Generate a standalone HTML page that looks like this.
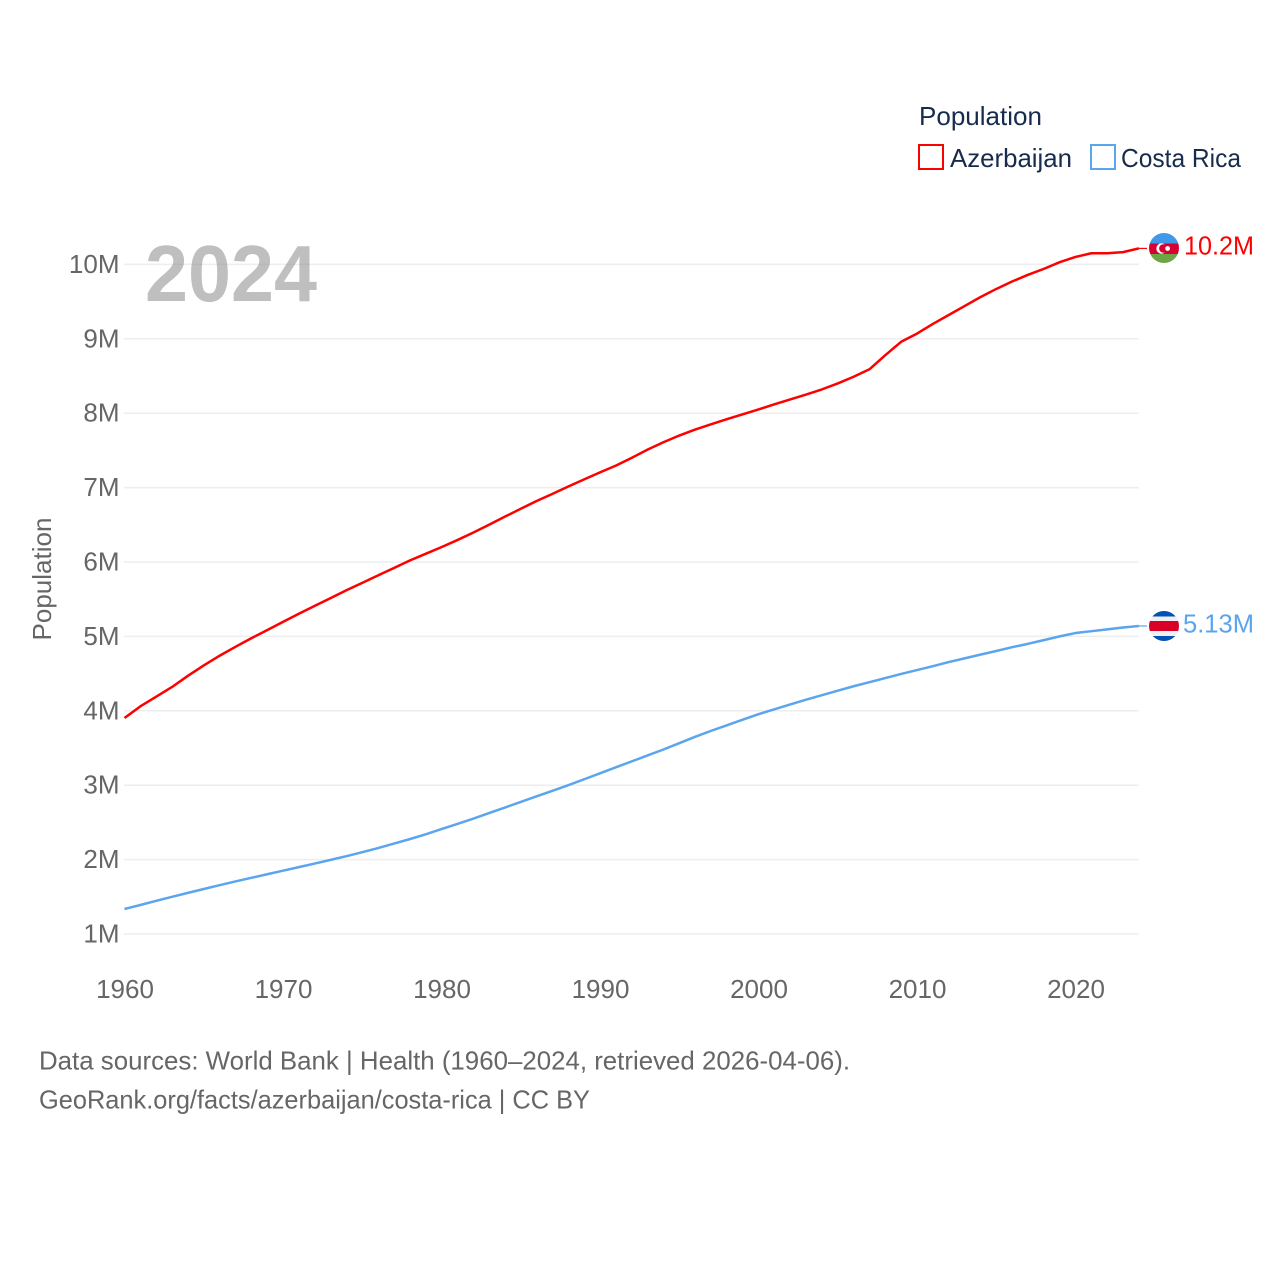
<!DOCTYPE html>
<html lang="en">
<head>
<meta charset="utf-8">
<title>Population: Azerbaijan and Costa Rica</title>
<style>
html,body{margin:0;padding:0;background:#fff;}
svg{display:block;font-family:"Liberation Sans",Arial,sans-serif;}
</style>
</head>
<body>
<svg id="chart" xmlns="http://www.w3.org/2000/svg" width="1280" height="1280" viewBox="0 0 1280 1280">
  <defs>
    <clipPath id="clip-az"><circle cx="1164" cy="248" r="15"/></clipPath>
    <clipPath id="clip-cr"><circle cx="1164" cy="626" r="15"/></clipPath>
  </defs>
  <rect width="1280" height="1280" fill="#fff"/>
  <g id="grid"></g>
  <g id="yticks"></g>
  <g id="xticks"></g>
  <text transform="translate(51,579) rotate(-90)" text-anchor="middle" font-size="26" fill="#666" textLength="123" lengthAdjust="spacingAndGlyphs">Population</text>
  <text x="145" y="301" font-size="80" font-weight="700" fill="#808080" fill-opacity="0.5" textLength="172" lengthAdjust="spacingAndGlyphs">2024</text>
  <g id="series"></g>

  <g>
    <text x="919" y="125" font-size="26" fill="#172b4d" textLength="123" lengthAdjust="spacingAndGlyphs">Population</text>
    <rect x="919" y="145" width="24" height="24" fill="none" stroke="#ff0000" stroke-width="2"/>
    <text x="950" y="167" font-size="26" fill="#172b4d" textLength="122" lengthAdjust="spacingAndGlyphs">Azerbaijan</text>
    <rect x="1091" y="145" width="24" height="24" fill="none" stroke="#5ba4ee" stroke-width="2"/>
    <text x="1121" y="167" font-size="26" fill="#172b4d" textLength="120" lengthAdjust="spacingAndGlyphs">Costa Rica</text>
  </g>

  <g clip-path="url(#clip-az)">
    <rect x="1149" y="233" width="30" height="10.5" fill="#3f98e8"/>
    <rect x="1149" y="243.5" width="30" height="10.5" fill="#d80032"/>
    <rect x="1149" y="254" width="30" height="9" fill="#6da544"/>
    <circle cx="1161.5" cy="248.5" r="5.2" fill="#fff"/>
    <circle cx="1163.3" cy="248.5" r="4.2" fill="#d80032"/>
    <circle cx="1167.6" cy="248.5" r="2.4" fill="#fff"/>
  </g>
  <g clip-path="url(#clip-cr)">
    <rect x="1149" y="611" width="30" height="30" fill="#f0f0f0"/>
    <rect x="1149" y="611" width="30" height="5.5" fill="#0052b4"/>
    <rect x="1149" y="636" width="30" height="5" fill="#0052b4"/>
    <rect x="1149" y="621" width="30" height="10" fill="#d80027"/>
  </g>
  <text x="1184" y="254.5" font-size="26" fill="#ff0000" textLength="70" lengthAdjust="spacingAndGlyphs">10.2M</text>
  <text x="1183" y="632.5" font-size="26" fill="#5ba4ee" textLength="71" lengthAdjust="spacingAndGlyphs">5.13M</text>

  <text x="39" y="1069.5" font-size="26" fill="#666" textLength="811" lengthAdjust="spacingAndGlyphs">Data sources: World Bank | Health (1960–2024, retrieved 2026-04-06).</text>
  <text x="39" y="1108.5" font-size="26" fill="#666" textLength="551" lengthAdjust="spacingAndGlyphs">GeoRank.org/facts/azerbaijan/costa-rica | CC BY</text>
</svg>
<script>
const startYear = 1960;
const xTickYears = [1960, 1970, 1980, 1990, 2000, 2010, 2020];
const yTickValues = [1, 2, 3, 4, 5, 6, 7, 8, 9, 10];
const azerbaijan = [
  3.903, 4.06, 4.19, 4.32, 4.47, 4.61, 4.74, 4.86, 4.975, 5.085,
  5.195, 5.305, 5.41, 5.515, 5.62, 5.72, 5.82, 5.92, 6.02, 6.11,
  6.20, 6.295, 6.395, 6.50, 6.61, 6.715, 6.82, 6.915, 7.015, 7.11,
  7.205, 7.295, 7.40, 7.51, 7.61, 7.70, 7.78, 7.85, 7.92, 7.985,
  8.05, 8.12, 8.185, 8.25, 8.32, 8.40, 8.49, 8.59, 8.78, 8.96,
  9.07, 9.20, 9.32, 9.44, 9.56, 9.67, 9.77, 9.86, 9.94, 10.03,
  10.10, 10.15, 10.15, 10.165, 10.215
];
const costaRica = [
  1.336, 1.39, 1.446, 1.50, 1.553, 1.605, 1.656, 1.706, 1.755, 1.803,
  1.851, 1.899, 1.947, 1.996, 2.046, 2.10, 2.155, 2.215, 2.275, 2.34,
  2.41, 2.48, 2.55, 2.625, 2.70, 2.775, 2.85, 2.925, 3.00, 3.08,
  3.16, 3.24, 3.32, 3.40, 3.48, 3.565, 3.65, 3.73, 3.805, 3.88,
  3.955, 4.02, 4.085, 4.15, 4.21, 4.27, 4.33, 4.385, 4.44, 4.495,
  4.548, 4.60, 4.655, 4.705, 4.755, 4.804, 4.855, 4.90, 4.95, 5.00,
  5.045, 5.07, 5.095, 5.12, 5.14
];

const NS = 'http://www.w3.org/2000/svg';
const xScale = function (year) { return 124.5 + (year - 1960) * 15.85; };
const yScale = function (v) { return 934 - (v - 1) * 74.4; };

const grid = document.getElementById('grid');
const yticks = document.getElementById('yticks');
const xticks = document.getElementById('xticks');
const series = document.getElementById('series');

yTickValues.forEach(function (v) {
  const line = document.createElementNS(NS, 'line');
  
  
  line.setAttribute('x1', 124);
  line.setAttribute('x2', 1139);
  line.setAttribute('y1', yScale(v));
  line.setAttribute('y2', yScale(v));
  line.setAttribute('stroke', '#eeeeee');
  line.setAttribute('stroke-width', 1.5);
  grid.appendChild(line);

  const label = document.createElementNS(NS, 'text');
  
  
  label.setAttribute('x', 119.5);
  label.setAttribute('y', yScale(v) + 8.5);
  label.setAttribute('text-anchor', 'end');
  label.setAttribute('font-size', 26);
  label.setAttribute('fill', '#666');
  label.textContent = v + 'M';
  yticks.appendChild(label);
});

xTickYears.forEach(function (year) {
  const label = document.createElementNS(NS, 'text');
  
  
  label.setAttribute('x', xScale(year) + 0.5);
  label.setAttribute('y', 998);
  label.setAttribute('text-anchor', 'middle');
  label.setAttribute('font-size', 26);
  label.setAttribute('fill', '#666');
  label.textContent = year;
  xticks.appendChild(label);
});

function drawSeries(values, color, name) {
  const pts = values.map(function (v, i) {
    return xScale(startYear + i).toFixed(2) + ',' + yScale(v).toFixed(2);
  });
  const path = document.createElementNS(NS, 'polyline');
  
  
  path.setAttribute('points', pts.join(' '));
  path.setAttribute('fill', 'none');
  path.setAttribute('stroke', color);
  path.setAttribute('stroke-width', 2.5);
  path.setAttribute('stroke-linejoin', 'round');
  series.appendChild(path);

  const last = values[values.length - 1];
  const connector = document.createElementNS(NS, 'line');
  
  
  connector.setAttribute('x1', xScale(startYear + values.length - 1));
  connector.setAttribute('x2', 1147);
  connector.setAttribute('y1', yScale(last));
  connector.setAttribute('y2', yScale(last));
  connector.setAttribute('stroke', color);
  connector.setAttribute('stroke-width', 1.2);
  series.appendChild(connector);
}
drawSeries(azerbaijan, '#ff0000', 'line-azerbaijan');
drawSeries(costaRica, '#5ba4ee', 'line-costa-rica');
</script>
</body>
</html>
